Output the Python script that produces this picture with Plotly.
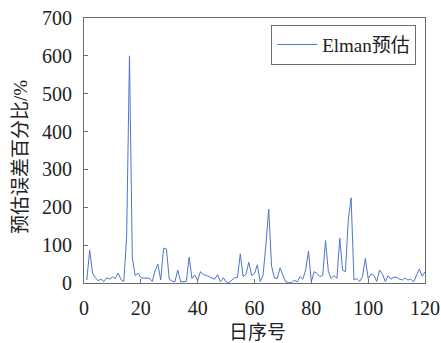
import plotly.graph_objects as go

days = list(range(1, 121))
elman_error = [
    8, 87, 26, 14, 6, 10, 4, 14, 10, 16,
    12, 26, 9, 4, 120, 600, 66, 20, 26, 14,
    13, 13, 13, 4, 32, 50, 8, 92, 90, 10,
    5, 3, 34, 3, 3, 4, 68, 12, 21, 7,
    30, 22, 20, 17, 15, 10, 22, 3, 14, 3,
    1, 7, 14, 14, 77, 17, 23, 55, 20, 25,
    48, 4, 20, 100, 195, 45, 13, 12, 40, 20,
    3, 1, 1, 7, 3, 17, 10, 34, 84, 3,
    30, 25, 17, 20, 112, 30, 12, 20, 12, 118,
    34, 30, 167, 225, 8, 12, 4, 17, 65, 12,
    24, 20, 4, 34, 24, 4, 19, 10, 15, 15,
    10, 8, 13, 8, 10, 3, 22, 37, 18, 30,
]
x_ticks = [0, 20, 40, 60, 80, 100, 120]
y_ticks = [0, 100, 200, 300, 400, 500, 600, 700]

FONT = '"Liberation Serif", "Times New Roman", "Noto Sans CJK SC", serif'
AXIS_COLOR = "#6e6e6e"
TEXT_COLOR = "#222222"

fig = go.Figure()
fig.add_trace(go.Scatter(
    x=days, y=elman_error, mode="lines", name="Elman预估",
    line=dict(color="#5075c8", width=1),
))

axis_common = dict(
    showgrid=False, zeroline=False, showline=True, mirror=True,
    linecolor=AXIS_COLOR, linewidth=1,
    ticks="inside", ticklen=4, tickcolor=AXIS_COLOR, tickwidth=1,
    tickfont=dict(family=FONT, size=20, color=TEXT_COLOR),
    automargin=False,
    ticklabelstandoff=7,
)

fig.update_layout(
    width=441, height=343,
    margin=dict(l=84, r=16, t=18, b=60),
    paper_bgcolor="white", plot_bgcolor="white",
    font=dict(family=FONT, color=TEXT_COLOR),
    showlegend=True,
    legend=dict(
        x=0.974, y=0.975, xanchor="right", yanchor="top",
        bgcolor="white", bordercolor=AXIS_COLOR, borderwidth=1,
        font=dict(family=FONT, size=19, color=TEXT_COLOR),
        itemwidth=40,
    ),
    xaxis=dict(range=[0, 120], tickvals=x_ticks,
               ticktext=[str(v) for v in x_ticks], **axis_common),
    yaxis=dict(range=[0, 700], tickvals=y_ticks,
               ticktext=[str(v) for v in y_ticks], **axis_common),
    annotations=[
        dict(text="日序号", xref="paper", yref="paper", x=0.508, y=-0.186,
             xanchor="center", yanchor="middle", showarrow=False,
             font=dict(family=FONT, size=19, color=TEXT_COLOR)),
        dict(text="预估误差百分比/%", xref="paper", yref="paper", x=-0.188, y=0.475,
             xanchor="center", yanchor="middle", showarrow=False, textangle=-90,
             font=dict(family=FONT, size=19, color=TEXT_COLOR)),
    ],
)

fig.write_html("out.html", config={"displayModeBar": False},
               post_script="document.body.style.margin='0';document.body.style.overflow='hidden';")
